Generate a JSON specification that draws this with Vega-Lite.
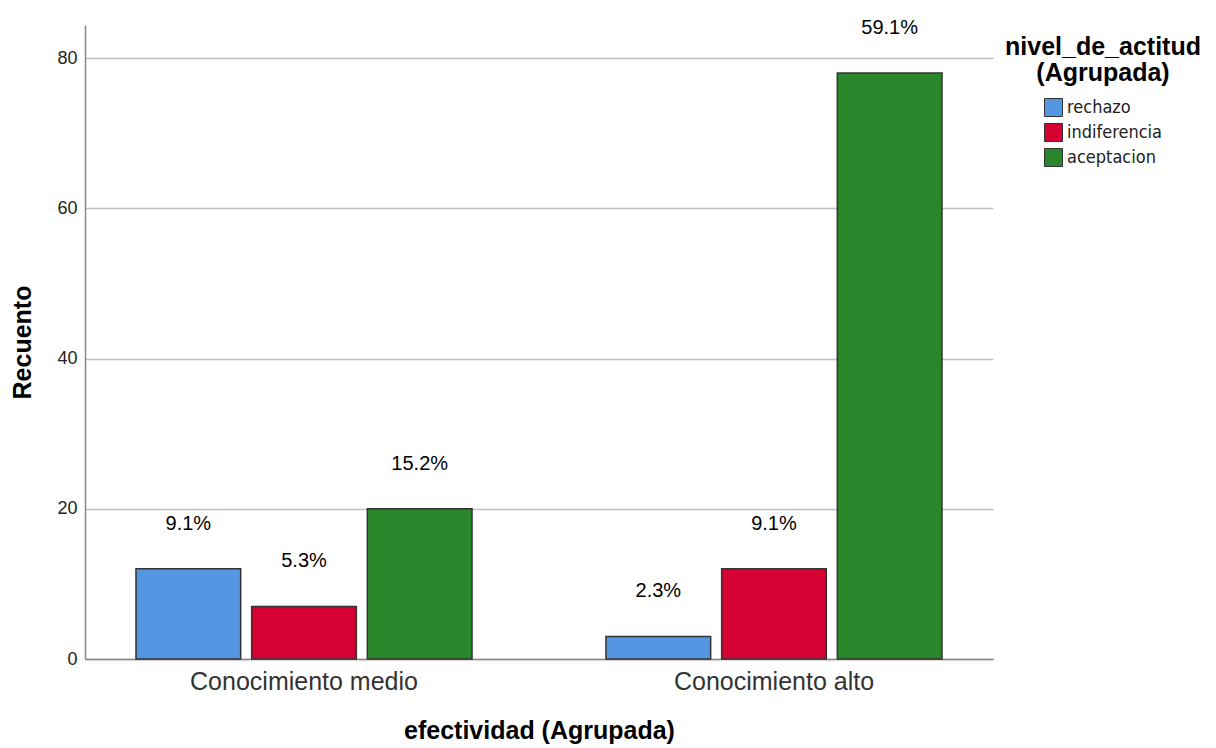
{
  "$schema": "https://vega.github.io/schema/vega-lite/v6.json",
  "autosize": {"type": "none"},
  "padding": {"left": 85, "top": 25, "right": 223, "bottom": 89},
  "width": 908,
  "height": 634,
  "background": "white",
  "config": {
    "view": {"stroke": null},
    "font": "Liberation Sans",
    "axis": {"labelFont": "Liberation Sans", "titleFont": "Liberation Sans"}
  },
  "data": {
    "values": [
      {"efectividad": "Conocimiento medio", "actitud": "rechazo", "recuento": 12, "pct": "9.1%"},
      {"efectividad": "Conocimiento medio", "actitud": "indiferencia", "recuento": 7, "pct": "5.3%"},
      {"efectividad": "Conocimiento medio", "actitud": "aceptacion", "recuento": 20, "pct": "15.2%"},
      {"efectividad": "Conocimiento alto", "actitud": "rechazo", "recuento": 3, "pct": "2.3%"},
      {"efectividad": "Conocimiento alto", "actitud": "indiferencia", "recuento": 12, "pct": "9.1%"},
      {"efectividad": "Conocimiento alto", "actitud": "aceptacion", "recuento": 78, "pct": "59.1%"}
    ]
  },
  "encoding": {
    "x": {
      "field": "efectividad",
      "type": "nominal",
      "sort": ["Conocimiento medio", "Conocimiento alto"],
      "scale": {"paddingInner": 0.285, "paddingOuter": 0.1085},
      "axis": {
        "title": "efectividad (Agrupada)",
        "titleFontSize": 25,
        "titleFontWeight": "bold",
        "titleColor": "#000000",
        "titlePadding": 24,
        "labelAngle": 0,
        "labelFontSize": 25,
        "labelLimit": 0,
        "labelColor": "#333333",
        "labelPadding": 10,
        "ticks": false,
        "domainColor": "#888888",
        "domainWidth": 1.5
      }
    },
    "xOffset": {
      "field": "actitud",
      "type": "nominal",
      "sort": ["rechazo", "indiferencia", "aceptacion"],
      "scale": {"paddingInner": 0.095, "paddingOuter": 0}
    },
    "y": {
      "field": "recuento",
      "type": "quantitative",
      "scale": {"domain": [0, 84.4], "nice": false},
      "axis": {
        "title": "Recuento",
        "titleFontSize": 25,
        "titleFontWeight": "bold",
        "titleColor": "#000000",
        "titlePadding": 21,
        "values": [0, 20, 40, 60, 80],
        "labelFontSize": 18,
        "labelColor": "#222222",
        "labelPadding": 8,
        "ticks": false,
        "grid": true,
        "gridColor": "#bfbfbf",
        "gridWidth": 1.5,
        "domainColor": "#888888",
        "domainWidth": 1.5
      }
    }
  },
  "layer": [
    {
      "mark": {"type": "bar", "stroke": "#333333", "strokeWidth": 1.5},
      "encoding": {
        "color": {
          "field": "actitud",
          "type": "nominal",
          "scale": {
            "domain": ["rechazo", "indiferencia", "aceptacion"],
            "range": ["#5596e3", "#d60032", "#2a862a"]
          },
          "legend": {
            "title": ["nivel_de_actitud", "(Agrupada)"],
            "orient": "none",
            "legendX": 920,
            "legendY": 10,
            "titleFont": "Liberation Sans",
            "titleFontSize": 25,
            "titleFontWeight": "bold",
            "titleColor": "#000000",
            "titleLineHeight": 26,
            "titleAlign": "center",
            "titleAnchor": "middle",
            "titleLimit": 0,
            "titlePadding": 12,
            "symbolType": "square",
            "symbolSize": 324,
            "symbolStrokeColor": "#333333",
            "symbolStrokeWidth": 1,
            "symbolOpacity": 1,
            "labelFont": "DejaVu Sans Condensed",
            "labelFontSize": 18,
            "labelColor": "#222222",
            "labelOffset": 4,
            "rowPadding": 2
          }
        }
      }
    },
    {
      "mark": {"type": "text", "baseline": "middle", "dy": -45, "fontSize": 20, "color": "#000000", "font": "Liberation Sans"},
      "encoding": {
        "text": {"field": "pct"}
      }
    }
  ]
}
